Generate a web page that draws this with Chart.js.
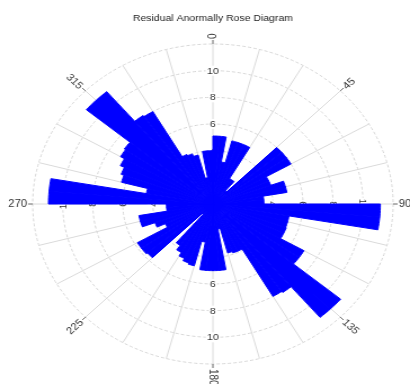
<!DOCTYPE html>
<html><head><meta charset="utf-8">
<script src="https://cdn.jsdelivr.net/npm/chart.js@4.4.1/dist/chart.umd.min.js"></script>
<style>
html,body{margin:0;padding:0;background:#fff;overflow:hidden}
#wrap{width:364px;height:384px;transform:scaleX(1.1264);transform-origin:0 0}
canvas{display:block}
</style></head><body>
<div id="wrap"><canvas id="c" width="364" height="384"></canvas></div>
<script>
// bin start angles (degrees, clockwise from north), 5 degree bins
const binStarts = [0,5,10,15,20,25,30,35,40,45,50,55,60,65,70,75,80,85,
  90,95,100,105,110,115,120,125,130,135,140,145,150,155,160,165,170,175,
  180,185,190,195,200,205,210,215,220,225,230,235,240,245,250,255,260,265,
  270,275,280,285,290,295,300,305,310,315,320,325,330,335,340,345,350,355];
// residual anomaly counts per bin
const counts = [5.1,5.1,3.2,4.9,4.9,4.9,2.2,2.2,1.3,6.0,6.0,6.0,4.1,4.1,5.0,5.0,3.4,3.4,
  11.15,11.15,5.15,5.15,5.2,5.2,7.0,7.0,11.1,11.1,8.1,8.0,3.9,3.9,3.8,1.9,5.0,5.0,
  5.0,5.0,2.9,4.8,4.7,4.5,4.2,3.8,1.0,5.7,5.8,5.8,3.5,4.1,5.0,5.0,3.1,3.1,
  10.95,10.95,4.5,6.3,6.5,6.8,7.1,7.2,11.0,11.0,8.1,8.0,4.1,4.0,3.8,2.0,4.0,4.0];
const ringTicks = [2,4,6,8,10];
const ringAxes = [0,90,180,270];
const directionLabels = ['0','45','90','135','180','225','270','315'];
const directionAngles = [0,45,90,135,180,225,270,315];
const titleText = 'Residual Anormally Rose Diagram';

const binWidth = 360 / binStarts.length;
const FONT = '"Liberation Sans", Arial, sans-serif';

const ringLabelPlugin = {
  id: 'ringLabels',
  beforeDatasetsDraw(chart) {
    const s = chart.scales.r, ctx = chart.ctx;
    ctx.save();
    ctx.font = '9.5px ' + FONT;
    ctx.textAlign = 'center';
    ctx.textBaseline = 'middle';
    ringAxes.forEach(a => {
      const idx = a / binWidth;
      const rot = (a === 90) ? Math.PI / 2 : (a === 270 ? -Math.PI / 2 : 0);
      ringTicks.forEach(v => {
        const p = s.getPointPositionForValue(idx, v);
        const t = String(v);
        const w = ctx.measureText(t).width;
        ctx.save();
        ctx.translate(p.x, p.y);
        ctx.rotate(rot);
        ctx.fillStyle = '#fff';
        ctx.fillRect(-w / 2 - 1, -5, w + 2, 10);
        ctx.fillStyle = '#333';
        ctx.fillText(t, 0, 0.5);
        ctx.restore();
      });
    });
    ctx.restore();
  }
};

const directionPlugin = {
  id: 'directions',
  afterDraw(chart) {
    const s = chart.scales.r, ctx = chart.ctx, R = s.drawingArea;
    ctx.save();
    ctx.font = '10px ' + FONT;
    ctx.fillStyle = '#333';
    ctx.strokeStyle = '#666';
    ctx.lineWidth = 1;
    ctx.textBaseline = 'middle';
    directionAngles.forEach((a, k) => {
      const idx = a / binWidth;
      const p0 = s.getPointPosition(idx, R);
      const p1 = s.getPointPosition(idx, R + 4);
      const pt = s.getPointPosition(idx, R + 5);
      ctx.beginPath();
      ctx.moveTo(p0.x, p0.y);
      ctx.lineTo(p1.x, p1.y);
      ctx.stroke();
      let rot, align;
      if (a <= 180) { rot = (a - 90) * Math.PI / 180; align = 'left'; }
      else { rot = (a - 270) * Math.PI / 180; align = 'right'; }
      ctx.save();
      ctx.translate(pt.x, pt.y);
      ctx.rotate(rot);
      ctx.textAlign = align;
      ctx.fillText(directionLabels[k], 0, 0.5);
      ctx.restore();
    });
    ctx.restore();
  }
};

new Chart(document.getElementById('c'), {
  type: 'polarArea',
  data: {
    labels: binStarts.map(a => a + '°'),
    datasets: [{
      data: counts,
      backgroundColor: '#0000ff',
      borderColor: '#0000ff',
      borderWidth: 1
    }]
  },
  options: {
    responsive: false,
    animation: false,
    layout: { padding: { top: 0, bottom: 19.5, left: 29, right: 15 } },
    plugins: {
      legend: { display: false },
      tooltip: { enabled: false },
      title: {
        display: true,
        text: titleText,
        color: '#222',
        font: { family: FONT, size: 9.3, weight: 'normal' },
        padding: { top: 13, bottom: 20.34 }
      }
    },
    scales: {
      r: {
        min: 0, max: 12,
        startAngle: 0,
        ticks: { display: false, stepSize: 2 },
        grid: { circular: true, color: '#d6d6d6', lineWidth: 1 },
        border: { dash: [3, 2] },
        angleLines: {
          display: true,
          color: '#dadada',
          lineWidth: c => (c.index % 3 === 0 ? 1 : 0)
        },
        pointLabels: { display: false }
      }
    }
  },
  plugins: [ringLabelPlugin, directionPlugin]
});
</script>
</body></html>
